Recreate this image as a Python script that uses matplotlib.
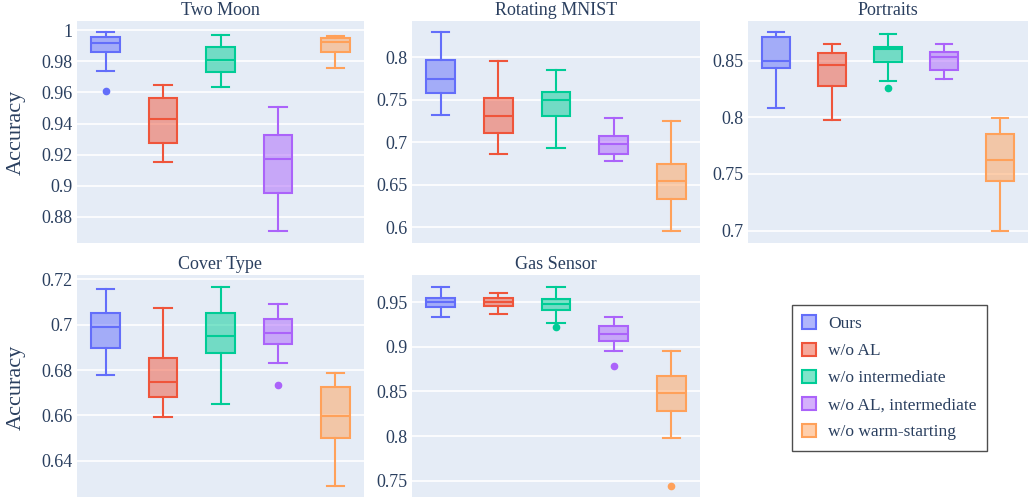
import matplotlib
matplotlib.use('Agg')
import matplotlib.pyplot as plt
from matplotlib.patches import Patch
from matplotlib.ticker import FuncFormatter

plt.rcParams['font.family'] = ['Liberation Serif', 'DejaVu Serif']

# methods / legend
methods = ['Ours', 'w/o AL', 'w/o intermediate', 'w/o AL, intermediate', 'w/o warm-starting']
colors = ['#636EFA', '#EF553B', '#00CC96', '#AB63FA', '#FFA15A']

# box stats per method: [whisker low, q1, median, q3, whisker high]
two_moon = [[0.9736, 0.9859, 0.9914, 0.9955, 0.9987],
            [0.9156, 0.9278, 0.9426, 0.9565, 0.9646],
            [0.9634, 0.9732, 0.9810, 0.9891, 0.9970],
            [0.8710, 0.8954, 0.9169, 0.9327, 0.9505],
            [0.9756, 0.9856, 0.9923, 0.9951, 0.9964]]
two_moon_out = [[0.961], [], [], [], []]

rot_mnist = [[0.7320, 0.7580, 0.7737, 0.7965, 0.8290],
             [0.6863, 0.7110, 0.7306, 0.7514, 0.7957],
             [0.6930, 0.7310, 0.7498, 0.7584, 0.7843],
             [0.6776, 0.6863, 0.6973, 0.7067, 0.7278],
             [0.5953, 0.6333, 0.6541, 0.6737, 0.7250]]
rot_mnist_out = [[], [], [], [], []]

portraits = [[0.8085, 0.8432, 0.8500, 0.8706, 0.8750],
             [0.7976, 0.8279, 0.8459, 0.8570, 0.8644],
             [0.8318, 0.8488, 0.8600, 0.8620, 0.8738],
             [0.8341, 0.8420, 0.8535, 0.8574, 0.8647],
             [0.6997, 0.7441, 0.7626, 0.7850, 0.7994]]
portraits_out = [[], [], [0.8262], [], []]

cover_type = [[0.6777, 0.6897, 0.6991, 0.7050, 0.7157],
              [0.6593, 0.6681, 0.6749, 0.6855, 0.7072],
              [0.6649, 0.6874, 0.6951, 0.7053, 0.7168],
              [0.6833, 0.6913, 0.6963, 0.7025, 0.7092],
              [0.6287, 0.6499, 0.6597, 0.6723, 0.6786]]
cover_type_out = [[], [], [], [0.6733], []]

gas_sensor = [[0.9335, 0.9451, 0.9504, 0.9552, 0.9676],
              [0.9369, 0.9459, 0.9500, 0.9545, 0.9609],
              [0.9268, 0.9418, 0.9478, 0.9537, 0.9669],
              [0.8957, 0.9062, 0.9148, 0.9234, 0.9335],
              [0.7976, 0.8283, 0.8478, 0.8669, 0.8957]]
gas_sensor_out = [[], [], [0.9227], [0.8785], [0.7436]]

panels = [
    ('Two Moon', two_moon, two_moon_out, (0.8633, 1.0058), [0.88, 0.90, 0.92, 0.94, 0.96, 0.98, 1.0]),
    ('Rotating MNIST', rot_mnist, rot_mnist_out, (0.5812, 0.8424), [0.6, 0.65, 0.7, 0.75, 0.8]),
    ('Portraits', portraits, portraits_out, (0.689, 0.885), [0.7, 0.75, 0.8, 0.85]),
    ('Cover Type', cover_type, cover_type_out, (0.624, 0.7219), [0.64, 0.66, 0.68, 0.70, 0.72]),
    ('Gas Sensor', gas_sensor, gas_sensor_out, (0.7316, 0.9807), [0.75, 0.8, 0.85, 0.9, 0.95]),
]

W, H = 1028, 497
fig = plt.figure(figsize=(W / 100, H / 100), dpi=100)

# axes rectangles in pixels: left, top, width, height
rects = [(77, 21, 287, 222), (412, 21, 288, 222), (748, 21, 280, 222),
         (77, 275, 287, 222), (412, 275, 288, 222)]

text_col = '#2a3f5f'
bg = '#E5ECF6'

for (title, stats, outs, ylim, yticks), (l, t, w, h) in zip(panels, rects):
    ax = fig.add_axes([l / W, 1 - (t + h) / H, w / W, h / H])
    ax.set_facecolor(bg)
    for s in ax.spines.values():
        s.set_visible(False)
    ax.set_axisbelow(True)
    ax.yaxis.grid(True, color='white', linewidth=1.2)
    for i, (st, ol) in enumerate(zip(stats, outs)):
        d = dict(whislo=st[0], q1=st[1], med=st[2], q3=st[3], whishi=st[4], fliers=ol)
        c = colors[i]
        ax.bxp([d], positions=[i], widths=0.5, patch_artist=True,
               capwidths=0.3,
               boxprops=dict(facecolor=c + '80', edgecolor=c, linewidth=1.5),
               medianprops=dict(color=c, linewidth=1.5),
               whiskerprops=dict(color=c, linewidth=1.5),
               capprops=dict(color=c, linewidth=1.5),
               flierprops=dict(marker='o', markerfacecolor=c, markeredgecolor=c,
                               markersize=4.5, linestyle='none'))
    ax.set_xlim(-0.5, 4.5)
    ax.set_ylim(*ylim)
    ax.set_yticks(yticks)
    ax.yaxis.set_major_formatter(FuncFormatter(lambda v, p: '%g' % round(v, 3)))
    ax.set_xticks([])
    ax.tick_params(axis='y', length=0, pad=3, labelsize=13, labelcolor=text_col)
    ax.set_title(title, fontsize=13, color=text_col, pad=4)

fig.text(16 / W, 1 - 132 / H, 'Accuracy', rotation=90, ha='center', va='center',
         fontsize=16, color=text_col)
fig.text(16 / W, 1 - 387 / H, 'Accuracy', rotation=90, ha='center', va='center',
         fontsize=16, color=text_col)

handles = [Patch(facecolor=c + '80', edgecolor=c, linewidth=1.5) for c in colors]
leg = fig.legend(handles, methods, loc='upper left', bbox_to_anchor=(792 / W, 1 - 305 / H),
                 borderaxespad=0, frameon=True, fancybox=False, fontsize=12.5,
                 handlelength=0.8, handleheight=0.8, handletextpad=0.7,
                 labelspacing=0.6, borderpad=0.6, labelcolor=text_col)
leg.get_frame().set_edgecolor('#222222')
leg.get_frame().set_linewidth(1.0)

fig.savefig('out.png', dpi=100)
